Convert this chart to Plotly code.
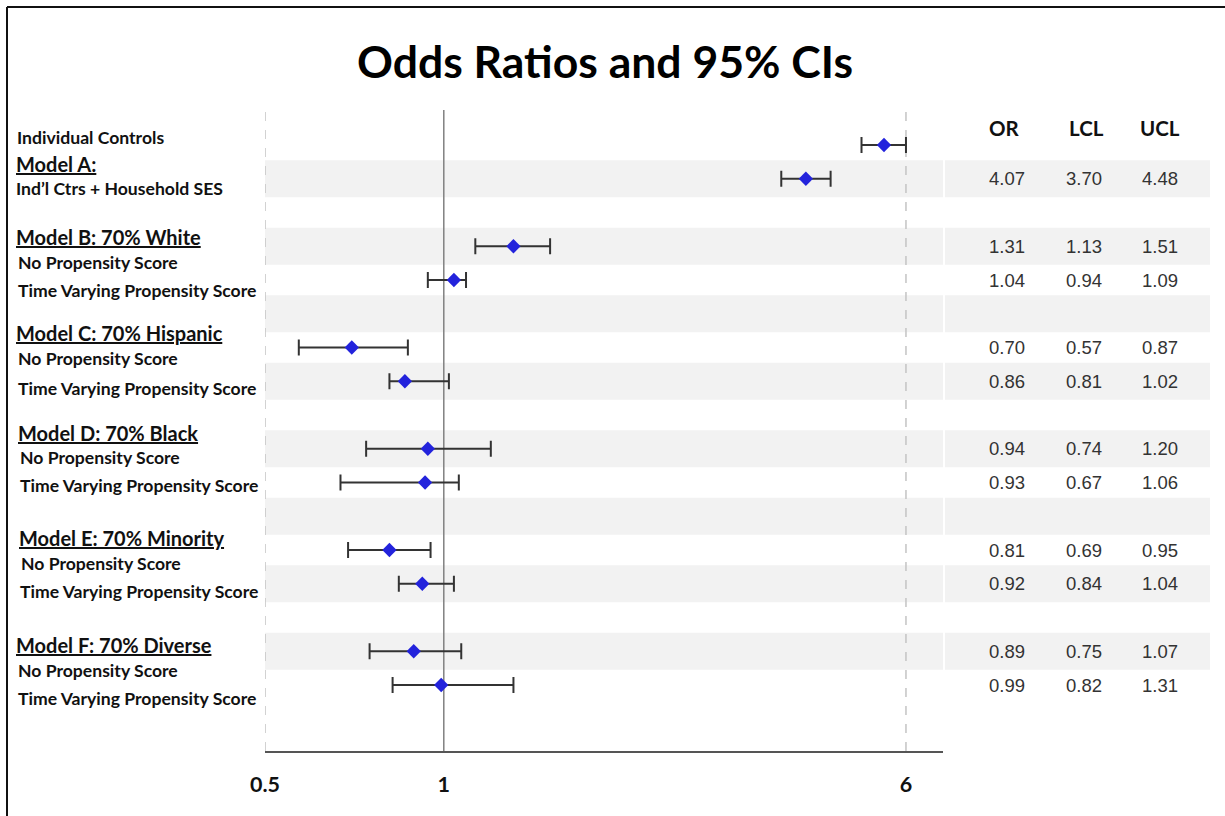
import plotly.graph_objects as go

# ---------------- data ----------------
row_pos = [0, 1, 3, 4, 6, 7, 9, 10, 12, 13, 15, 16]
odds_ratio = [5.51, 4.07, 1.31, 1.04, 0.70, 0.86, 0.94, 0.93, 0.81, 0.92, 0.89, 0.99]
lcl = [5.05, 3.70, 1.13, 0.94, 0.57, 0.81, 0.74, 0.67, 0.69, 0.84, 0.75, 0.82]
ucl = [6.00, 4.48, 1.51, 1.09, 0.87, 1.02, 1.20, 1.06, 0.95, 1.04, 1.07, 1.31]
in_table = [False, True, True, True, True, True, True, True, True, True, True, True]

band_rows = [1, 3, 5, 7, 9, 11, 13, 15]

label_text = [
    "Individual Controls", "Model A:", "Ind\u2019l Ctrs + Household SES",
    "Model B: 70% White", "No Propensity Score", "Time Varying Propensity Score",
    "Model C: 70% Hispanic", "No Propensity Score", "Time Varying Propensity Score",
    "Model D: 70% Black", "No Propensity Score", "Time Varying Propensity Score",
    "Model E: 70% Minority", "No Propensity Score", "Time Varying Propensity Score",
    "Model F: 70% Diverse", "No Propensity Score", "Time Varying Propensity Score",
]
label_row = [-0.21, 0.56, 1.30, 2.73, 3.47, 4.30, 5.57, 6.34, 7.20,
             8.53, 9.27, 10.10, 11.64, 12.39, 13.24, 14.81, 15.56, 16.41]
label_header = [False, True, False, True, False, False, True, False, False,
                True, False, False, True, False, False, True, False, False]
label_x = [15, 14, 14, 14, 16, 16, 14, 16, 16, 16, 18, 18, 17, 19, 18, 14, 16, 16]

table_cols = ["OR", "LCL", "UCL"]
tick_vals = [0.5, 1, 6]
tick_text = ["0.5", "1", "6"]
title_text = "Odds Ratios and 95% CIs"

# ---------------- layout geometry ----------------
W, H = 1225, 816
L, R, T, B = 265, 1225 - 943, 110, 816 - 751
PW = W - L - R
PH = H - T - B


def px_x(p):
    return (p - L) / PW


def px_y(p):
    return (H - B - p) / PH


FONT = "Lato"

fig = go.Figure()

fig.add_trace(go.Scatter(
    x=odds_ratio, y=row_pos, mode="markers",
    marker=dict(symbol="diamond", size=11, color="#2323dc", line=dict(width=0)),
    error_x=dict(type="data", symmetric=False,
                 array=[u - o for u, o in zip(ucl, odds_ratio)],
                 arrayminus=[o - l for o, l in zip(odds_ratio, lcl)],
                 color="#333333", thickness=2, width=8),
    showlegend=False, hoverinfo="skip",
))

shapes = []
for r in band_rows:
    shapes.append(dict(type="rect", xref="paper", yref="y", x0=0, x1=1,
                       y0=r - 0.55, y1=r + 0.55, fillcolor="#f2f2f2",
                       line=dict(width=0), layer="below"))
    shapes.append(dict(type="rect", xref="paper", yref="y", x0=px_x(945), x1=px_x(1210),
                       y0=r - 0.55, y1=r + 0.55, fillcolor="#f2f2f2",
                       line=dict(width=0), layer="below"))
shapes.append(dict(type="line", xref="x", yref="paper", x0=1, x1=1, y0=0, y1=1,
                   line=dict(color="#808080", width=1.5), layer="below"))
for v in (0.5, 6):
    shapes.append(dict(type="line", xref="x", yref="paper", x0=v, x1=v, y0=0, y1=1,
                       line=dict(color="#c4c4c4", width=1.5, dash="dash"), layer="below"))
shapes.append(dict(type="line", xref="paper", yref="paper", x0=px_x(7), x1=px_x(W + 5),
                   y0=px_y(7), y1=px_y(7), line=dict(color="#111111", width=2)))
shapes.append(dict(type="line", xref="paper", yref="paper", x0=px_x(7), x1=px_x(7),
                   y0=px_y(7), y1=px_y(H + 5), line=dict(color="#111111", width=2)))

annotations = []
for t, r, hdr, xo in zip(label_text, label_row, label_header, label_x):
    annotations.append(dict(
        text=f"<u>{t}</u>" if hdr else t,
        xref="paper", yref="y", x=px_x(xo), y=r, xanchor="left", yanchor="middle",
        showarrow=False,
        font=dict(family=FONT, size=20 if hdr else 17.6, color="#111111", weight="bold"),
    ))

head_x = [1004, 1086, 1160]
col_x = [1007, 1084, 1160]
for name, cx in zip(table_cols, head_x):
    annotations.append(dict(text=name, xref="paper", yref="y", x=px_x(cx), y=-0.5,
                            xanchor="center", yanchor="middle", showarrow=False,
                            font=dict(family=FONT, size=20.5, color="#111111", weight="bold")))
for r, o, lo, hi, show in zip(row_pos, odds_ratio, lcl, ucl, in_table):
    if not show:
        continue
    for v, cx in zip((o, lo, hi), col_x):
        annotations.append(dict(text=f"{v:.2f}", xref="paper", yref="y", x=px_x(cx), y=r,
                                xanchor="center", yanchor="middle", showarrow=False,
                                font=dict(family="Liberation Sans", size=18.5, color="#333333")))

fig.update_layout(
    width=W, height=H,
    margin=dict(l=L, r=R, t=T, b=B, pad=0),
    paper_bgcolor="white", plot_bgcolor="rgba(0,0,0,0)",
    title=dict(text=f"<b>{title_text}</b>", x=605 / W, xanchor="center",
               y=1 - 62 / H, yanchor="middle",
               font=dict(family=FONT, size=44.5, color="#000000")),
    xaxis=dict(type="log", range=[-0.30103, 0.8405], tickvals=tick_vals, ticktext=tick_text,
               showgrid=False, zeroline=False, showline=True, linecolor="#555555", linewidth=2,
               ticks="", ticklabelstandoff=13,
               tickfont=dict(family=FONT, size=21.5, color="#111111", weight="bold"),
               fixedrange=True),
    yaxis=dict(range=[16 + (751 - 685) / 33.75, -(145 - 110) / 33.75], visible=False,
               fixedrange=True),
    shapes=shapes, annotations=annotations,
)

fig.write_html("out.html", config={"displayModeBar": False},
               post_script="document.body.style.margin='0';")
